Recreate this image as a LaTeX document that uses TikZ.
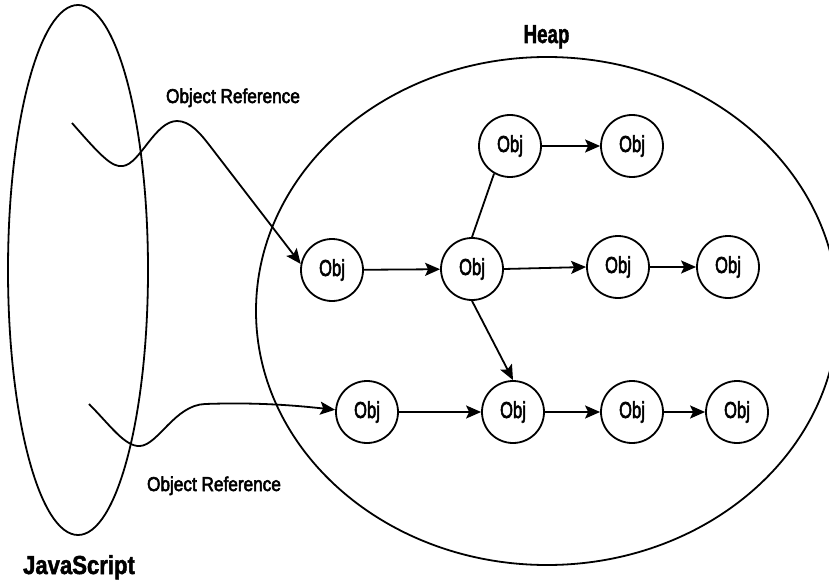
\documentclass[tikz,border=0pt]{standalone}
\usepackage{fontspec}
\setmainfont{Liberation Sans}
\newfontfamily\medfont{Liberation Sans}[FakeBold=3]
\newfontfamily\heavyfont{Liberation Sans Bold}[FakeBold=2]
\usepackage{graphicx}
\usetikzlibrary{arrows.meta}
\newcommand\ObjT{\scalebox{0.72}[1]{Obj}}
\newcommand\HS[2]{\scalebox{#1}[1]{#2}}
\begin{document}
\begin{tikzpicture}[x=1pt,y=-1pt,
  obj/.style={draw, circle, minimum size=62pt, inner sep=0pt, line width=1.8pt,
    font=\fontsize{23}{23}\medfont},
  arr/.style={line width=1.8pt, -{Stealth[length=15pt,width=13pt,inset=3pt]}},
  ln/.style={line width=1.8pt},
  shell/.style={line width=1.8pt},
  lbl/.style={anchor=base, inner sep=0pt, font=\fontsize{20}{20}\medfont},
  title/.style={anchor=base, inner sep=0pt, font=\fontsize{26}{26}\heavyfont}]
\useasboundingbox (0,0) rectangle (829,580);
\begin{scope}
\clip (0,0) rectangle (829,580);
% containers
\draw[shell] (78,270) ellipse [x radius=70, y radius=265];
\draw[shell] (547,311) ellipse [x radius=291, y radius=254];
\end{scope}
% labels
\node[title] (heap) at (546.5,43) {\HS{0.72}{Heap}};
\node[title] (js) at (79,574) {\HS{0.85}{JavaScript}};
\node[lbl] (ref1) at (233,103) {\HS{0.86}{Object Reference}};
\node[lbl] (ref2) at (214,491) {\HS{0.86}{Object Reference}};
% objects
\node[obj] (o11) at (510,146) {\ObjT};
\node[obj] (o12) at (632,146) {\ObjT};
\node[obj] (o21) at (332,270) {\ObjT};
\node[obj] (o22) at (472,269) {\ObjT};
\node[obj] (o23) at (618,267) {\ObjT};
\node[obj] (o24) at (728,267) {\ObjT};
\node[obj] (o31) at (367,412) {\ObjT};
\node[obj] (o32) at (513,412) {\ObjT};
\node[obj] (o33) at (632,412) {\ObjT};
\node[obj] (o34) at (737,412) {\ObjT};
% free ends of references
\coordinate (s1) at (72,123);
\coordinate (s2) at (89,404);
% references
\draw[arr] (s1) .. controls (100,155) and (112,168) .. (123,166)
  .. controls (140,164) and (155,121) .. (177,121)
  .. controls (190,121) and (200,133) .. (210,146) -- (o21.169);
\draw[arr] (s2) .. controls (110,425) and (125,447) .. (140,446)
  .. controls (158,445) and (175,405) .. (205,404)
  .. controls (260,402) and (300,406) .. (o31.176);
% object links
\draw[arr] (o11) -- (o12);
\draw[ln] (o22.north) -- (o11.240);
\draw[arr] (o21) -- (o22);
\draw[arr] (o22.east) -- (o23.west);
\draw[arr] (o23) -- (o24);
\draw[arr] (o22.south) -- (o32.north);
\draw[arr] (o31) -- (o32);
\draw[arr] (o32) -- (o33);
\draw[arr] (o33) -- (o34);
\end{tikzpicture}
\end{document}
